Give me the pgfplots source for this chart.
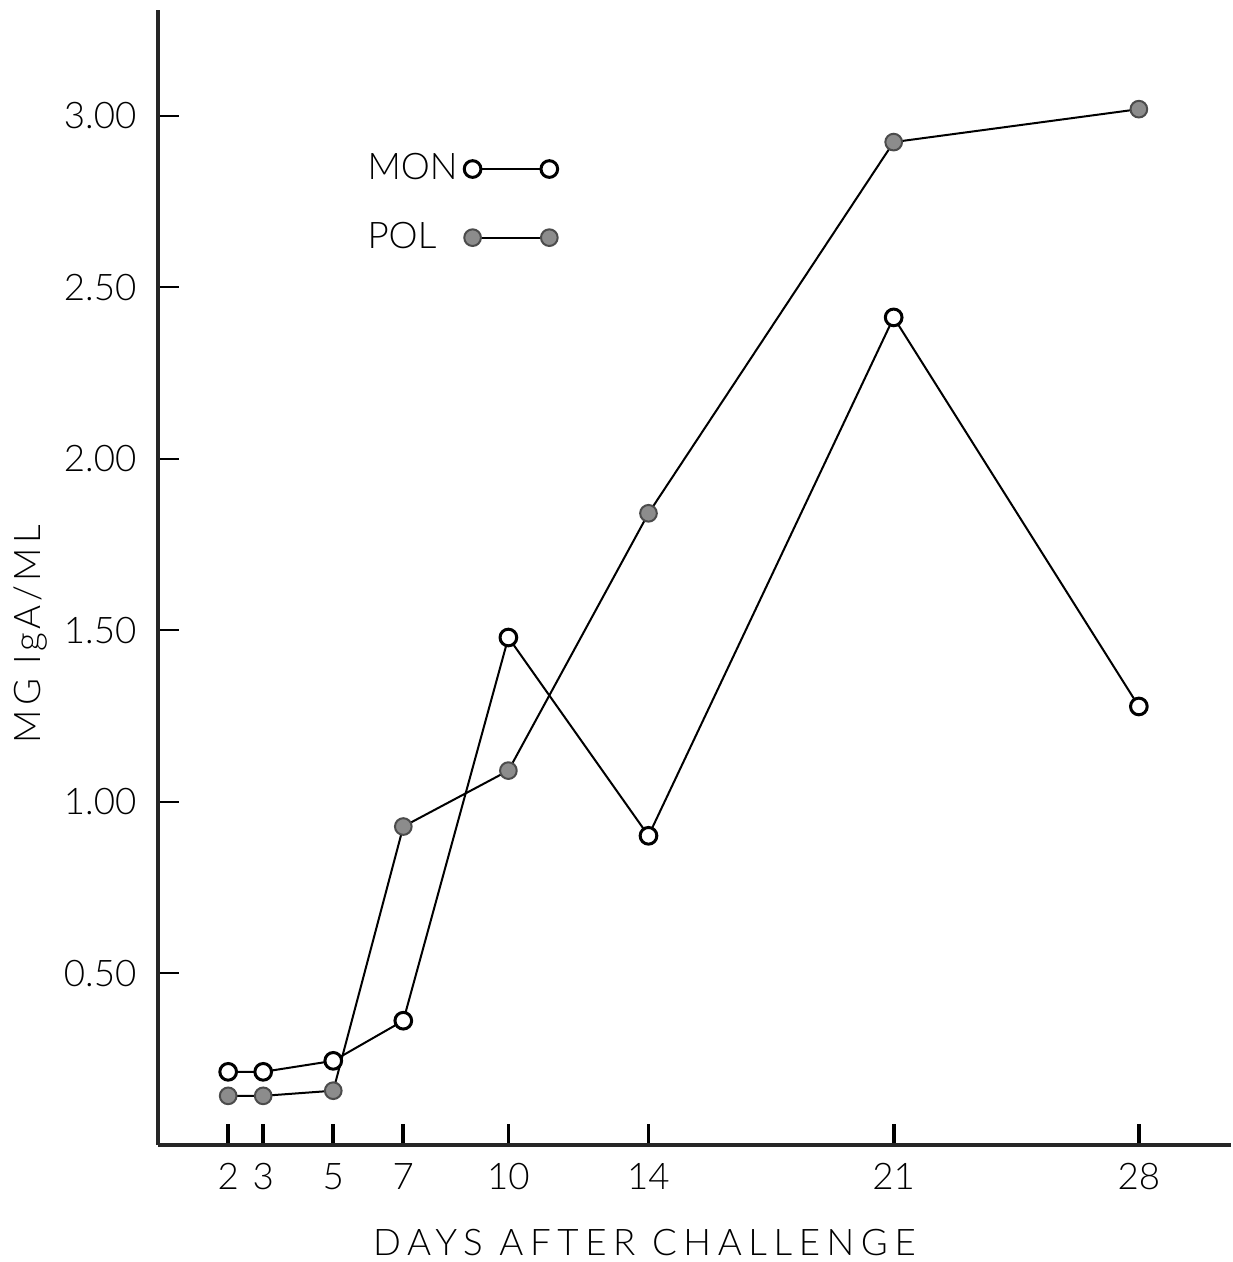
\documentclass[border=0pt]{standalone}
\usepackage{fontspec}
\setmainfont{Lato}[UprightFont={* Light}]
\usepackage{pgfplots}
\pgfplotsset{compat=1.18}
\begin{document}
\begin{tikzpicture}
\begin{axis}[
  name=ax,
  scale only axis,
  width=321.6pt, height=340.2pt,
  xmin=0, xmax=30.63,
  ymin=0, ymax=3.308,
  axis lines=left,
  axis line style={line width=1.2pt, black!85, -},
  xtick={2,3,5,7,10,14,21,28},
  ytick={0.5,1,1.5,2,2.5,3},
  tick align=inside,
  x tick style={line width=1.1pt, black},
  y tick style={line width=0.6pt, black},
  major tick length=6.3pt,
  /pgf/number format/assume math mode=true,
  y tick label style={/pgf/number format/fixed, /pgf/number format/fixed zerofill, /pgf/number format/precision=2, xshift=-3pt},
  tick label style={font=\fontsize{11}{13}\selectfont},
  x tick label style={yshift=-2pt},
  xlabel={\addfontfeature{LetterSpace=18}DAYS AFTER CHALLENGE},
  ylabel={\addfontfeature{LetterSpace=11}MG IgA/ML},
  label style={font=\fontsize{11}{13}\selectfont},
  xlabel style={yshift=-5pt, xshift=-15pt},
  ylabel style={yshift=-2pt, xshift=-17pt},
  legend plot pos=right,
  legend style={draw=none, fill=none, at={(0.179,0.886)}, anchor=north west,
    font=\fontsize{11}{13}\selectfont, row sep=7.2pt},
  legend cell align=left,
  legend image code/.code={\path (0pt,0pt); \draw[#1] plot coordinates {(1.8pt,0pt) (24.8pt,0pt)};},
]
\addplot[black, line width=0.6pt, mark=*, mark size=2.5pt,
  mark options={fill=white, draw=black, line width=0.9pt}]
  coordinates {(2,0.213) (3,0.213) (5,0.245) (7,0.362) (10,1.479) (14,0.901) (21,2.412) (28,1.278)};
\addlegendentry{MON}
\addplot[black, line width=0.6pt, mark=*, mark size=2.5pt,
  mark options={fill=black!45, draw=black!70, line width=0.6pt}]
  coordinates {(2,0.143) (3,0.143) (5,0.158) (7,0.928) (10,1.091) (14,1.841) (21,2.923) (28,3.019)};
\addlegendentry{POL}
\end{axis}
\pgfresetboundingbox
\path ([shift={(-47.4pt,-35.1pt)}]ax.south west) rectangle ([shift={(0.6pt,3pt)}]ax.north east);
\end{tikzpicture}
\end{document}
